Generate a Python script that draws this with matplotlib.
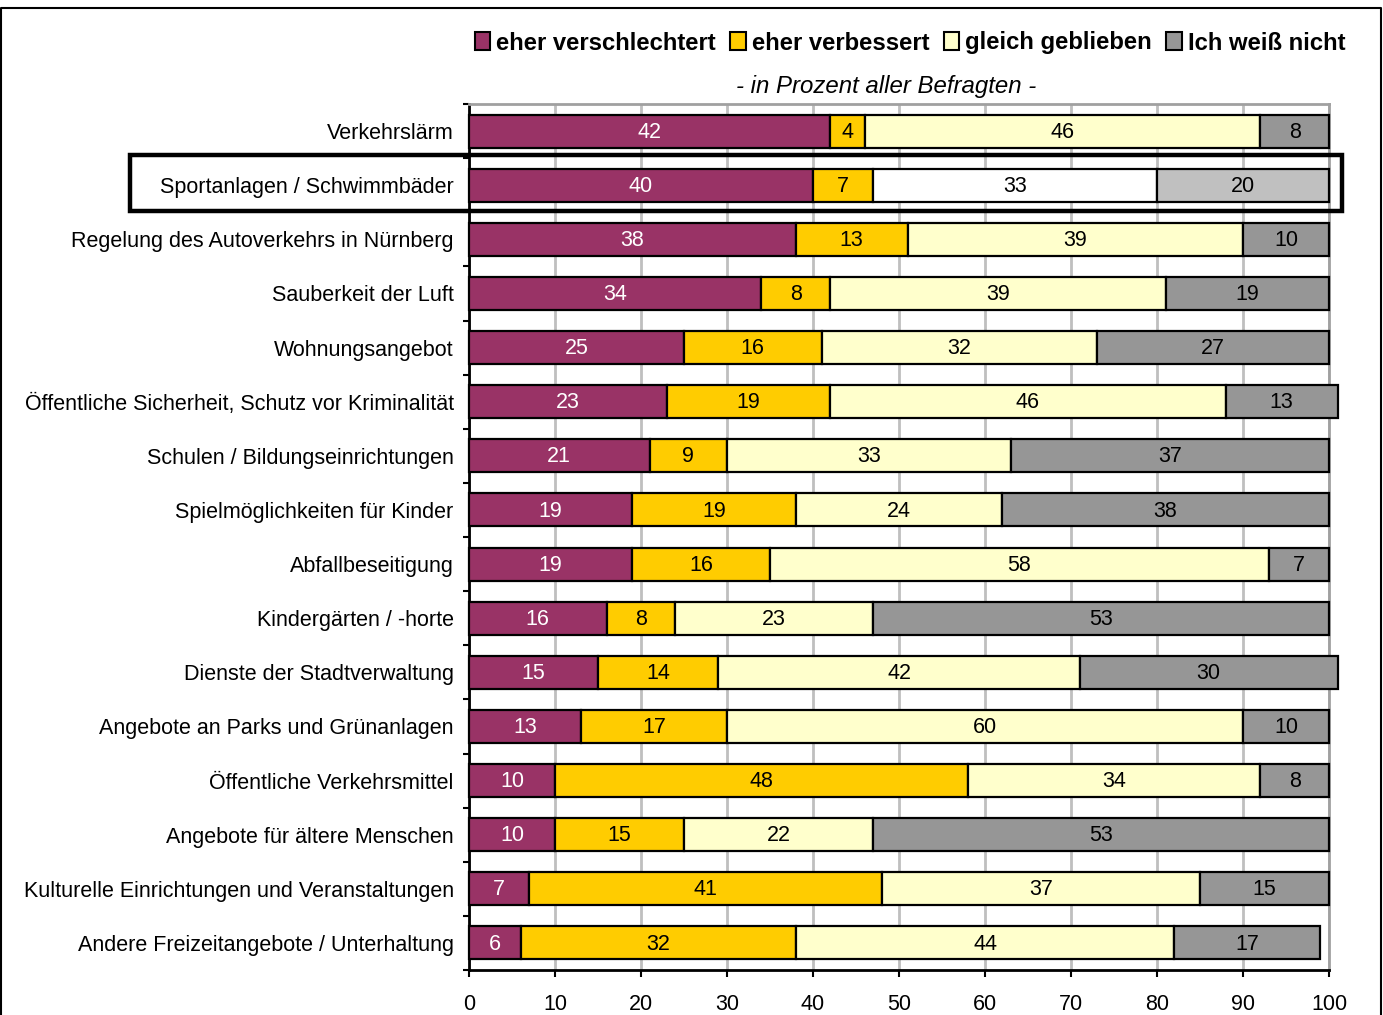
import matplotlib
matplotlib.use("Agg")
import matplotlib.pyplot as plt
import matplotlib.patches as mpatches
import numpy as np

plt.rcParams["font.family"] = ["Liberation Sans", "DejaVu Sans"]

CATEGORIES = [
    "Verkehrslärm",
    "Sportanlagen / Schwimmbäder",
    "Regelung des Autoverkehrs in Nürnberg",
    "Sauberkeit der Luft",
    "Wohnungsangebot",
    "Öffentliche Sicherheit, Schutz vor Kriminalität",
    "Schulen / Bildungseinrichtungen",
    "Spielmöglichkeiten für Kinder",
    "Abfallbeseitigung",
    "Kindergärten / -horte",
    "Dienste der Stadtverwaltung",
    "Angebote an Parks und Grünanlagen",
    "Öffentliche Verkehrsmittel",
    "Angebote für ältere Menschen",
    "Kulturelle Einrichtungen und Veranstaltungen",
    "Andere Freizeitangebote / Unterhaltung",
]
WORSE = [42, 40, 38, 34, 25, 23, 21, 19, 19, 16, 15, 13, 10, 10, 7, 6]
BETTER = [4, 7, 13, 8, 16, 19, 9, 19, 16, 8, 14, 17, 48, 15, 41, 32]
SAME = [46, 33, 39, 39, 32, 46, 33, 24, 58, 23, 42, 60, 34, 22, 37, 44]
DONT_KNOW = [8, 20, 10, 19, 27, 13, 37, 38, 7, 53, 30, 10, 8, 53, 15, 17]

SERIES_LABELS = ["eher verschlechtert", "eher verbessert", "gleich geblieben", "Ich weiß nicht"]
COLORS = ["#993366", "#FFCC00", "#FFFFCC", "#969696"]
TEXT_COLORS = ["white", "black", "black", "black"]
HIGHLIGHT = 1  # Sportanlagen-Zeile hervorgehoben
HIGHLIGHT_COLORS = ["#993366", "#FFCC00", "#FFFFFF", "#C0C0C0"]

W, H = 1383, 1015
fig = plt.figure(figsize=(W / 100, H / 100), dpi=100)
ax = fig.add_axes([469 / W, 1 - 970 / H, (1329 - 469) / W, (970 - 104) / H])

y = np.arange(len(CATEGORIES))
series = [WORSE, BETTER, SAME, DONT_KNOW]
left = np.zeros(len(CATEGORIES))
for k, vals in enumerate(series):
    vals = np.array(vals, dtype=float)
    colors = [HIGHLIGHT_COLORS[k] if i == HIGHLIGHT else COLORS[k] for i in range(len(vals))]
    bars = ax.barh(y, vals, left=left, height=0.61, color=colors,
                   edgecolor="black", linewidth=1.6, zorder=3)
    for b in bars:
        b.set_clip_on(False)
    for i, v in enumerate(vals):
        ax.text(left[i] + v / 2, y[i] + 0.02, f"{int(v)}", ha="center", va="center",
                color=TEXT_COLORS[k], fontsize=15.5, zorder=4)
    left += vals

ax.set_xlim(0, 100)
ax.set_ylim(len(CATEGORIES) - 0.5, -0.5)
ax.set_xticks(range(0, 101, 10))
ax.tick_params(axis="x", labelsize=15.5, length=5, width=1.5, direction="out", pad=12)
ax.set_yticks(y)
ax.set_yticklabels(CATEGORIES, fontsize=15.5)
ax.tick_params(axis="y", length=0, pad=11)
ax.set_yticks(np.arange(-0.5, len(CATEGORIES), 1), minor=True)
ax.tick_params(axis="y", which="minor", length=4, width=1.5, direction="out")
ax.grid(axis="x", color="#BFBFBF", linewidth=2, zorder=0)
for s in ["top", "right"]:
    ax.spines[s].set_color("#A0A0A0")
    ax.spines[s].set_linewidth(2)
for s in ["left", "bottom"]:
    ax.spines[s].set_linewidth(2)

# Legende
handles = [mpatches.Patch(facecolor=c, edgecolor="black", linewidth=1.5) for c in COLORS]
fig.legend(handles, SERIES_LABELS, loc="center", bbox_to_anchor=(910 / W, 1 - 43 / H),
           ncol=4, frameon=False, handlelength=0.65, handleheight=0.8,
           handletextpad=0.25, columnspacing=0.6,
           prop={"weight": "bold", "size": 17.2})

fig.text(886 / W, 1 - 86 / H, "- in Prozent aller Befragten -", ha="center", va="center",
         fontsize=17.3, style="italic")

# Rahmen um hervorgehobene Zeile
fig.add_artist(mpatches.Rectangle((130 / W, 1 - 211 / H), (1342 - 130) / W, (211 - 155) / H,
                                  transform=fig.transFigure, fill=False,
                                  edgecolor="black", linewidth=3.2, zorder=10))

# äußerer Rahmen (angeschnitten)
fig.add_artist(plt.Line2D([1 / W, 1 / W, 1381 / W, 1381 / W],
                          [0, 1 - 8 / H, 1 - 8 / H, 0],
                          transform=fig.transFigure, color="black", linewidth=1.5))

fig.savefig("out.png", dpi=100)
